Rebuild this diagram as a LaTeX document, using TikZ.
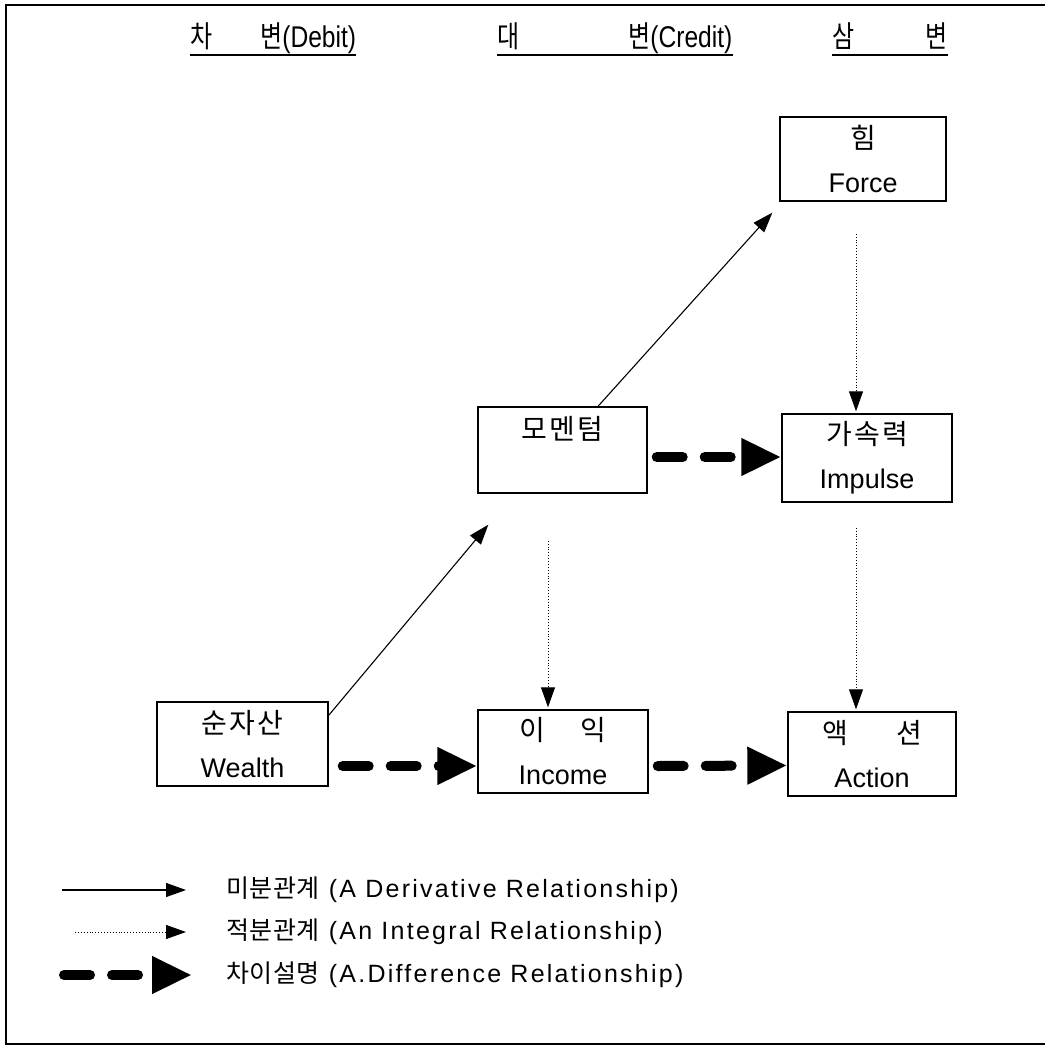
\documentclass[tikz,border=0pt]{standalone}
\usepackage{fontspec}
\setmainfont{Liberation Sans}
\newfontfamily\kr[LetterSpace=8]{Noto Sans CJK KR}
\newfontfamily\hdrfont[FakeStretch=0.82]{Liberation Sans}
\newfontfamily\krc[FakeStretch=0.8]{Noto Sans CJK KR}
\newfontfamily\legfont[LetterSpace=9]{Liberation Sans}
\newfontfamily\krleg[LetterSpace=2]{Noto Sans CJK KR}
\usetikzlibrary{arrows.meta}
\begin{document}
\begin{tikzpicture}[x=1pt,y=-1pt,
  box/.style={draw,line width=1.4pt,minimum width=170pt,minimum height=85pt,inner sep=0pt,align=center,font=\fontsize{27}{44}\selectfont},
  deriv/.style={line width=1.1pt,-{Triangle[length=20pt,width=14pt]}},
  integ/.style={line width=0.9pt,dotted,-{Triangle[length=20pt,width=14pt]}},
  diff/.style={line width=10pt,line cap=round,dash pattern=on 26pt off 22pt,-{Triangle[length=40pt,width=35pt]}},
  hdr/.style={inner sep=0pt,anchor=base west,font=\hdrfont\fontsize{30}{34}\selectfont},
  uline/.style={line width=1.4pt},
  legtxt/.style={inner sep=0pt,anchor=west,font=\legfont\fontsize{25}{28}\selectfont}]
\useasboundingbox (0,0) rectangle (1044,1046);
% frame
\draw[line width=1.5pt] (1050,5) -- (6,5) -- (6,1044) -- (1050,1044);
% headers
\node[hdr] (h1) at (190,48) {{\krc 차}\hspace{48pt}{\krc 변}(Debit)};
\node[hdr] (h2) at (497,48) {{\krc 대}\hspace{109pt}{\krc 변}(Credit)};
\node[hdr] (h3) at (832,48) {{\krc 삼}\hspace{71pt}{\krc 변}};
\draw[uline] ([yshift=-7pt]h1.base west) -- ([yshift=-7pt]h1.base east);
\draw[uline] ([yshift=-7pt]h2.base west) -- ([yshift=-7pt]h2.base east);
\draw[uline] ([yshift=-7pt]h3.base west) -- ([yshift=-7pt]h3.base east);
% boxes
\node[box,minimum width=166pt,minimum height=84pt] (force) at (863,159) {{\kr\fontsize{28}{44}\selectfont 힘}\\Force};
\node[box,minimum width=169pt,minimum height=86pt] (mom) at (562.5,450) {{\kr\fontsize{28}{44}\selectfont 모멘텀}\\\mbox{}};
\node[box,minimum height=88pt] (imp) at (867,458) {{\kr\fontsize{28}{44}\selectfont 가속력}\\Impulse};
\node[box,minimum width=171pt,minimum height=84pt] (wealth) at (242.5,744) {{\kr\fontsize{28}{44}\selectfont 순자산}\\Wealth};
\node[box,minimum height=83pt] (inc) at (563,751.5) {{\kr\fontsize{28}{44}\selectfont 이\hspace{36pt}익}\\Income};
\node[box,minimum width=168pt,minimum height=84pt] (act) at (872,754) {{\kr\fontsize{28}{44}\selectfont 액\hspace{48pt}션}\\Action};
% derivative arrows
\draw[deriv] ([yshift=-14pt]wealth.north east) -- ([xshift=11pt,yshift=-31pt]mom.south west);
\draw[deriv] ([xshift=35.5pt]mom.north) -- ([xshift=-7pt,yshift=-11pt]force.south west);
% integral arrows
\draw[integ] ([xshift=-7pt,yshift=-32pt]force.south) -- ([xshift=-11pt,yshift=2pt]imp.north);
\draw[integ] ([xshift=-11pt,yshift=-25pt]imp.south) -- ([xshift=-16pt,yshift=2pt]act.north);
\draw[integ] ([xshift=-14.5pt,yshift=-47pt]mom.south) -- ([xshift=-15pt,yshift=2pt]inc.north);
% difference arrows
\draw[diff] ([xshift=14pt,yshift=-22pt]wealth.east) -- ([yshift=-14.5pt]inc.west);
\draw[diff] ([xshift=9pt,yshift=-7pt]mom.east) -- ([yshift=1pt]imp.west);
\draw[diff] ([xshift=9pt,yshift=-14.5pt]inc.east) -- ([yshift=-11.5pt]act.west);
% legend
\coordinate (l1a) at (62,890);
\coordinate (l1b) at (186,890);
\coordinate (l2a) at (75,932);
\coordinate (l2b) at (186,932);
\coordinate (l3a) at (64,975);
\coordinate (l3b) at (192,975);
\draw[deriv] (l1a) -- (l1b);
\draw[integ] (l2a) -- (l2b);
\draw[diff] (l3a) -- (l3b);
\node[legtxt] (t1) at (226,890) {{\krleg 미분관계} (A Derivative Relationship)};
\node[legtxt] (t2) at (226,932) {{\krleg 적분관계} (An Integral Relationship)};
\node[legtxt] (t3) at (226,975) {{\krleg 차이설명} (A.Difference Relationship)};
\end{tikzpicture}
\end{document}
